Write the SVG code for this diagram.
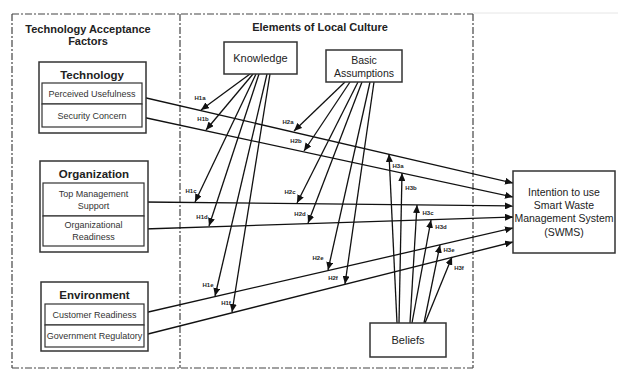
<svg xmlns="http://www.w3.org/2000/svg" width="618" height="373" viewBox="0 0 618 373">
<defs>
<marker id="ah" markerUnits="userSpaceOnUse" markerWidth="9" markerHeight="7" refX="8" refY="3.5" orient="auto">
<path d="M0,0 L8,3.5 L0,7 z" fill="#111"/>
</marker>
<style>
.frame{fill:none;stroke:#444;stroke-width:1.2;stroke-dasharray:7 2 2 2}
.box{fill:#fff;stroke:#333;stroke-width:1.5}
.inner{fill:#fff;stroke:#333;stroke-width:1.2}
.t{font-family:"Liberation Sans",Arial,sans-serif;fill:#222;text-anchor:middle}
.hd{font-size:11px;font-weight:bold}
.bt{font-size:11.5px;font-weight:bold}
.it{font-size:9px;fill:#333}
.nt{font-size:11px;fill:#222}
.lb{font-size:6px;font-weight:bold;fill:#222}
.c{stroke:#111;stroke-width:1.3;fill:none;marker-end:url(#ah)}
</style>
</defs>
<rect width="618" height="373" fill="#fff"/>
<g id="frame">
<line x1="473" y1="13" x2="618" y2="13" stroke="#e6e6e6" stroke-width="1"/>
<line class="frame" x1="12" y1="14" x2="473" y2="14"/>
<line class="frame" x1="12" y1="368" x2="473" y2="368"/>
<line class="frame" x1="12" y1="14" x2="12" y2="368"/>
<line class="frame" x1="180" y1="14" x2="180" y2="368"/>
<line class="frame" x1="473" y1="14" x2="473" y2="368"/>
</g>
<text class="t hd" x="88" y="33">Technology Acceptance</text>
<text class="t hd" x="88" y="45">Factors</text>
<text class="t hd" x="320" y="31">Elements of Local Culture</text>
<g id="connectors">
<line class="c" x1="142" y1="97" x2="513" y2="183"/>
<line class="c" x1="142" y1="117" x2="513" y2="197"/>
<line class="c" x1="144" y1="202" x2="513" y2="206"/>
<line class="c" x1="144" y1="229" x2="513" y2="217"/>
<line class="c" x1="144" y1="313" x2="513" y2="228"/>
<line class="c" x1="144" y1="335" x2="513" y2="242"/>
<line class="c" x1="250" y1="74" x2="201" y2="110"/>
<line class="c" x1="253" y1="74" x2="206" y2="130"/>
<line class="c" x1="256" y1="74" x2="195" y2="202"/>
<line class="c" x1="259" y1="74" x2="209" y2="226"/>
<line class="c" x1="267" y1="74" x2="215" y2="296"/>
<line class="c" x1="270" y1="74" x2="232" y2="312"/>
<line class="c" x1="345" y1="82" x2="294" y2="131"/>
<line class="c" x1="350" y1="82" x2="304" y2="151"/>
<line class="c" x1="358" y1="82" x2="297" y2="203"/>
<line class="c" x1="362" y1="82" x2="308" y2="223"/>
<line class="c" x1="370" y1="82" x2="328" y2="270"/>
<line class="c" x1="374" y1="82" x2="345" y2="284"/>
<line class="c" x1="397" y1="323" x2="389" y2="154"/>
<line class="c" x1="399" y1="323" x2="402" y2="173"/>
<line class="c" x1="410" y1="323" x2="417" y2="205"/>
<line class="c" x1="412" y1="323" x2="431" y2="220"/>
<line class="c" x1="424" y1="323" x2="440" y2="245"/>
<line class="c" x1="425" y1="323" x2="452" y2="257"/>
</g>
<g id="labels">
<text class="t lb" x="200" y="100">H1a</text>
<text class="t lb" x="203" y="121">H1b</text>
<text class="t lb" x="191" y="193">H1c</text>
<text class="t lb" x="202" y="219">H1d</text>
<text class="t lb" x="208" y="287">H1e</text>
<text class="t lb" x="226" y="305">H1f</text>
<text class="t lb" x="288" y="124">H2a</text>
<text class="t lb" x="296" y="143">H2b</text>
<text class="t lb" x="290" y="194">H2c</text>
<text class="t lb" x="300" y="216">H2d</text>
<text class="t lb" x="318" y="260">H2e</text>
<text class="t lb" x="333" y="280">H2f</text>
<text class="t lb" x="398" y="168">H3a</text>
<text class="t lb" x="411" y="190">H3b</text>
<text class="t lb" x="428" y="215">H3c</text>
<text class="t lb" x="441" y="229">H3d</text>
<text class="t lb" x="449" y="252">H3e</text>
<text class="t lb" x="459" y="270">H3f</text>
</g>
<g id="technology">
<rect class="box" x="39" y="62" width="107" height="71"/>
<text class="t bt" x="92" y="79">Technology</text>
<rect class="inner" x="42" y="83" width="100" height="21"/>
<rect class="inner" x="42" y="104" width="100" height="23"/>
<text class="t it" x="92" y="97">Perceived Usefulness</text>
<text class="t it" x="92" y="119">Security Concern</text>
</g>
<g id="organization">
<rect class="box" x="40" y="161" width="108" height="91"/>
<text class="t bt" x="94" y="178">Organization</text>
<rect class="inner" x="43" y="183" width="101" height="33"/>
<rect class="inner" x="43" y="216" width="101" height="30"/>
<text class="t it" x="93.5" y="197">Top Management</text>
<text class="t it" x="93.5" y="209">Support</text>
<text class="t it" x="93.5" y="228">Organizational</text>
<text class="t it" x="93.5" y="240">Readiness</text>
</g>
<g id="environment">
<rect class="box" x="41" y="282" width="107" height="69"/>
<text class="t bt" x="94.5" y="299">Environment</text>
<rect class="inner" x="45" y="304" width="99" height="21"/>
<rect class="inner" x="45" y="325" width="99" height="22"/>
<text class="t it" x="94.5" y="318">Customer Readiness</text>
<text class="t it" x="94.5" y="339">Government Regulatory</text>
</g>
<g id="knowledge">
<rect class="box" x="224" y="42" width="73" height="32"/>
<text class="t nt" x="260.5" y="62">Knowledge</text>
</g>
<g id="basic-assumptions">
<rect class="box" x="326" y="50" width="76" height="32"/>
<text class="t nt" x="364" y="64" style="font-size:10.5px">Basic</text>
<text class="t nt" x="364" y="77" style="font-size:10.5px">Assumptions</text>
</g>
<g id="intention">
<rect class="box" x="513" y="171" width="102" height="82"/>
<text class="t nt" x="564" y="196" style="font-size:10.5px">Intention to use</text>
<text class="t nt" x="564" y="209" style="font-size:10.5px">Smart Waste</text>
<text class="t nt" x="564" y="222" style="font-size:10.5px">Management System</text>
<text class="t nt" x="564" y="236" style="font-size:10.5px">(SWMS)</text>
</g>
<g id="beliefs">
<rect class="box" x="370" y="323" width="76" height="34"/>
<text class="t nt" x="408" y="344">Beliefs</text>
</g>
</svg>
